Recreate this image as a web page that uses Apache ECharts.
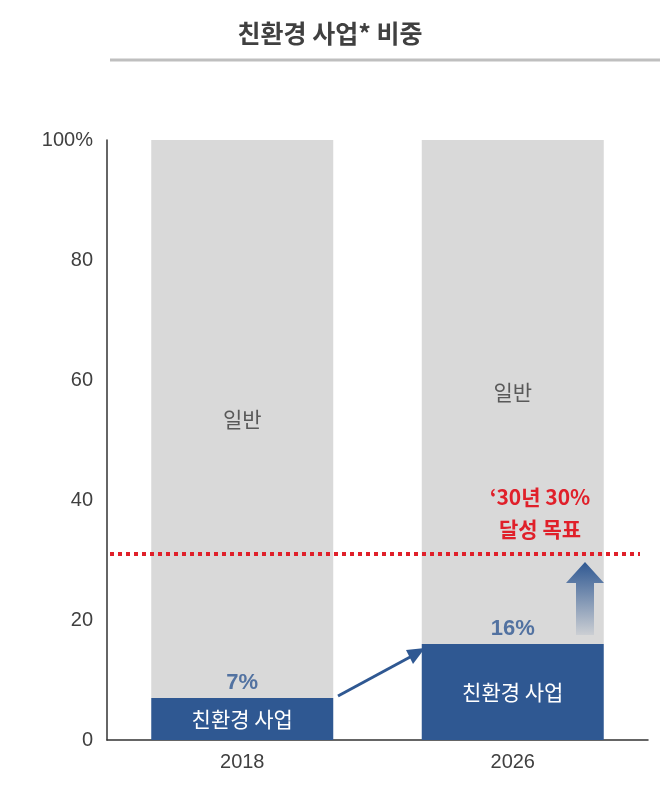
<!DOCTYPE html>
<html><head><meta charset="utf-8">
<script src="https://cdn.jsdelivr.net/npm/echarts@6/dist/echarts.min.js"></script>
<style>body{margin:0}#c{width:660px;height:786px}</style></head>
<body><div id="c"></div>
<script>
const categories = ['2018','2026'];
const ecoValues = [7,16];
const generalValues = [93,84];
const ecoLabels = ['7%','16%'];
const yTicks = ['0','20','40','60','80','100%'];
const targetValue = 31;
const F = "'Noto Sans CJK KR','Noto Sans',sans-serif";
const N = "'Liberation Sans',Arial,sans-serif";
const chart = echarts.init(document.getElementById('c'));
chart.setOption({
  animation:false,
  title:{text:'친환경 사업* 비중',left:'center',top:16,textStyle:{fontFamily:F,fontSize:25,fontWeight:'bold',color:'#404040'}},
  grid:{left:107,right:12,top:140,bottom:46},
  xAxis:{type:'category',data:categories,axisTick:{show:false},
    axisLine:{lineStyle:{color:'#333',width:1.5}},
    axisLabel:{fontFamily:N,fontSize:20,color:'#404040',margin:12}},
  yAxis:{type:'value',min:0,max:100,interval:20,splitLine:{show:false},
    axisLine:{show:true,lineStyle:{color:'#333',width:1.5}},
    axisLabel:{fontFamily:N,fontSize:20,color:'#404040',margin:14,
      formatter:(v)=>yTicks[v/20]}},
  series:[
    {type:'bar',stack:'s',data:ecoValues,barWidth:182,itemStyle:{color:'#2f5892'},
     label:{show:true,position:'inside',formatter:'친환경 사업',color:'#fff',fontFamily:F,fontSize:21}},
    {type:'bar',stack:'s',data:generalValues,itemStyle:{color:'#d9d9d9'},
     label:{show:true,position:'inside',formatter:'일반',color:'#595959',fontFamily:F,fontSize:21},
     markLine:{silent:true,symbol:'none',label:{show:false},
       lineStyle:{color:'#e0202a',type:[4,4],width:4},
       data:[[{coord:[-0.5,targetValue],x:110},{coord:[1.5,targetValue],x:640}]]}},
    {type:'scatter',data:ecoValues,symbolSize:0,
     label:{show:true,position:'top',distance:4,formatter:(p)=>ecoLabels[p.dataIndex],
       color:'#2f5892',fontFamily:N,fontSize:22,fontWeight:'bold'}}
  ],
  graphic:[
    {type:'line',z:100,shape:{x1:110,y1:60,x2:660,y2:60},style:{stroke:'#bfbfbf',lineWidth:3}},
    {type:'text',z:100,x:540,y:497,style:{text:"‘30년 30%",fill:'#e0202a',fontFamily:F,fontSize:21,fontWeight:'bold',align:'center',verticalAlign:'middle'}},
    {type:'text',z:100,x:540,y:529,style:{text:"달성 목표",fill:'#e0202a',fontFamily:F,fontSize:21,fontWeight:'bold',align:'center',verticalAlign:'middle'}},
    {type:'line',z:100,shape:{x1:338,y1:696,x2:412,y2:656},style:{stroke:'#2f5892',lineWidth:3}},
    {type:'polygon',z:100,shape:{points:[[425,648],[406,650],[413,664]]},style:{fill:'#2f5892'}},
    {type:'polygon',z:100,shape:{points:[[576,635],[576,583],[566,583],[585,562],[604,583],[594,583],[594,635]]},
     style:{fill:{type:'linear',x:0,y:0,x2:0,y2:1,colorStops:[{offset:0,color:'#2f5892'},{offset:1,color:'rgba(47,88,146,0.08)'}]}}}
  ]
});
</script></body></html>
